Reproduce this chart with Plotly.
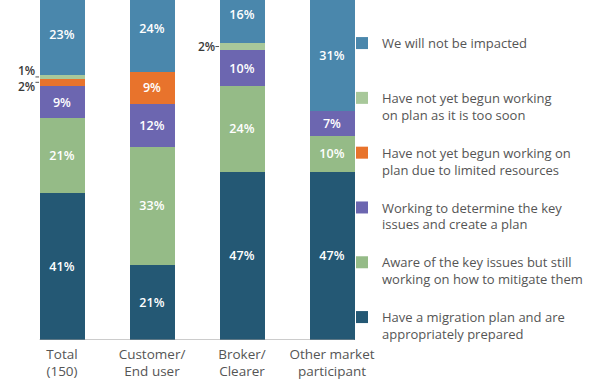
import plotly.graph_objects as go

categories = ["Total<br>(150)", "Customer/<br>End user<br>(33)", "Broker/<br>Clearer<br>(58)", "Other market<br>participant<br>(59)"]

series_names = [
    "Have a migration plan and are<br>appropriately prepared",
    "Aware of the key issues but still<br>working on how to mitigate them",
    "Working to determine the key<br>issues and create a plan",
    "Have not yet begun working on<br>plan due to limited resources",
    "Have not yet begun working<br>on plan as it is too soon",
    "We will not be impacted<br>&nbsp;",
]
migration_plan = [41, 21, 47, 47]
aware_issues = [21, 33, 24, 10]
determining = [9, 12, 10, 7]
limited_resources = [2, 9, 0, 0]
too_soon = [1, 0, 2, 0]
not_impacted = [23, 24, 16, 31]

series_values = [migration_plan, aware_issues, determining, limited_resources, too_soon, not_impacted]
colors = ["#245874", "#95bb87", "#6c66b0", "#e8732c", "#a8c89a", "#4a87ac"]

fig = go.Figure()
n = len(series_names)
for i, (name, vals, col) in enumerate(zip(series_names, series_values, colors)):
    fig.add_trace(go.Bar(
        x=categories, y=vals, name=name, marker_color=col,
        marker_line_width=0,
        text=[f"{v}%" if v >= 5 else "" for v in vals],
        textposition="inside", insidetextanchor="middle",
        textfont=dict(color="white", size=12.5, family="Open Sans", weight=600),
        legendgroup=name, legendrank=n - i, hoverinfo="skip",
    ))

# outside small labels (category index, series index, label, vertical offset)
outside = [(0, 4, "1%", 6), (0, 3, "2%", -4), (2, 4, "2%", 0)]
for ci, si, txt, ysh in outside:
    base = sum(series_values[k][ci] for k in range(si))
    mid = base + series_values[si][ci] / 2
    fig.add_annotation(x=ci - 0.3, y=mid, text=txt, showarrow=False, xanchor="right",
                       yshift=ysh, xshift=2,
                       font=dict(color="#3a3a3a", size=12, family="Open Sans", weight=600))
    fig.add_shape(type="line", x0=ci - 0.295, x1=ci - 0.255, y0=mid, y1=mid,
                  line=dict(color="#555555", width=1))

fig.add_shape(type="line", x0=-0.25, x1=3.25, y0=0, y1=0, line=dict(color="#999999", width=1))

fig.update_layout(
    width=600, height=380,
    margin=dict(l=17, r=223, t=0, b=40, autoexpand=False),
    barmode="stack", bargap=0.5,
    plot_bgcolor="white", paper_bgcolor="white",
    font=dict(family="Open Sans", color="#555555"),
    xaxis=dict(range=[-0.5, 3.5], showline=False, showgrid=False, ticks="",
               automargin=False, ticklabelstandoff=4,
               tickfont=dict(size=13.5, color="#555555")),
    yaxis=dict(range=[0, 95], visible=False, automargin=False),
    uniformtext=dict(mode="show", minsize=8),
    legend=dict(traceorder="grouped", tracegroupgap=18, xref="container", x=0.57,
                xanchor="left", yref="container", y=0.926, yanchor="top", valign="top",
                bgcolor="rgba(0,0,0,0)",
                maxheight=1, font=dict(size=13, color="#555555"), itemwidth=30),
    showlegend=True,
)

fig.write_html("out.html", config={"displayModeBar": False},
               post_script="document.body.style.margin='0';")
